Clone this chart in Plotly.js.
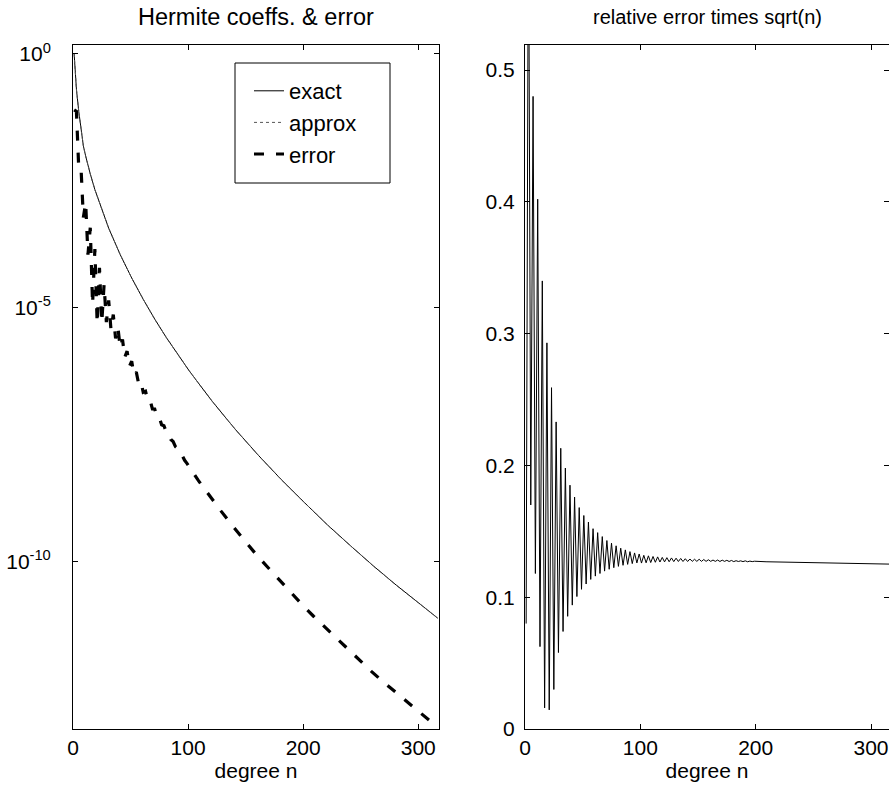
<!DOCTYPE html>
<html>
<head>
<meta charset="utf-8">
<script src="https://cdn.plot.ly/plotly-3.0.1.min.js"></script>
<style>html,body{margin:0;padding:0;background:#fff}#chart{width:889px;height:792px}</style>
</head>
<body>
<div id="chart"></div>
<script>
// ---- data ----
// left panel: Hermite coefficients (log10 values), odd degrees
const nExact = [1,3,5,7,9,11,13,15,19,25,31,41,51,61,71,81,101,121,141,161,181,201,221,241,261,281,301,317];
const exactLog10 = [0,-0.70,-1.13,-1.52,-1.81,-2.01,-2.19,-2.36,-2.67,-3.07,-3.43,-3.95,-4.41,-4.83,-5.22,-5.58,-6.24,-6.84,-7.39,-7.90,-8.38,-8.83,-9.27,-9.68,-10.08,-10.46,-10.83,-11.11];
const approxLog10 = [0,-0.70,-1.13,-1.52,-1.81,-2.01,-2.19,-2.36,-2.67,-3.07,-3.43,-3.95,-4.41,-4.83,-5.22,-5.58,-6.24,-6.84,-7.39,-7.90,-8.38,-8.83,-9.27,-9.68,-10.08,-10.46,-10.83,-11.11];
const nErr = [1,3,5,7,9,11,13,15,17,19,21,23,25,27,29,31,33,35,37,39,41,43,45,47,49,51,53,55,57,59,61,63,65,67,69,71,73,75,77,79,81,83,85,87,89,91,93,95,97,99,
  109,119,129,139,149,159,169,179,189,199,209,219,229,239,249,259,269,279,289,299,309,317];
const errLog10 = [-1.10,-1.13,-2.25,-2.26,-3.22,-2.93,-3.95,-3.42,-4.93,-3.84,-5.31,-4.21,-5.29,-4.54,-5.28,-4.85,-5.43,-5.13,-5.60,-5.38,
  -5.78,-5.62,-5.97,-5.85,-6.15,-6.05,-6.32,-6.26,-6.49,-6.45,-6.66,-6.64,-6.82,-6.82,-6.99,-6.99,-7.15,-7.16,-7.30,-7.32,
  -7.44,-7.47,-7.59,-7.63,-7.73,-7.77,-7.88,-7.91,-8.00,-8.06,
  -8.40,-8.71,-9.01,-9.30,-9.58,-9.85,-10.10,-10.35,-10.59,-10.84,-11.07,-11.29,-11.51,-11.73,-11.94,-12.15,-12.35,-12.54,-12.74,-12.93,-13.12,-13.26];

// right panel: relative error times sqrt(n)
const nRel = [1,3,5,7,9,11,13,15,17,19,21,23,25,27,29,31,33,35,37,39,41,43,45,47,49,51,53,55,57,59,61,63,65,67,69,71,73,75,77,79,81,83,85,87,89,91,93,95,97,99,
  101,103,105,107,109,111,113,115,117,119,121,123,125,127,129,131,133,135,137,139,141,143,145,147,149,151,153,155,157,159,
  161,163,165,167,169,171,173,175,177,179,181,183,185,187,189,191,193,195,197,199,
  209,219,229,239,249,259,269,279,289,299,309,317];
const relVals = [0.080,0.650,0.170,0.480,0.118,0.402,0.0625,0.340,0.016,0.293,0.0145,0.259,0.030,0.233,0.058,0.213,0.074,0.198,0.0855,0.185,
  0.094,0.176,0.1005,0.168,0.106,0.162,0.110,0.157,0.1135,0.152,0.116,0.149,0.118,0.146,0.1198,0.143,0.1212,0.141,0.1224,0.139,
  0.1234,0.1372,0.1242,0.1359,0.1249,0.1346,0.1255,0.1336,0.1260,0.1328,
  0.1259,0.1318,0.1261,0.1314,0.1263,0.1309,0.1265,0.1306,0.1267,0.1302,0.1268,0.1300,0.1269,0.1298,0.1270,0.1296,0.1271,0.1294,0.1271,0.1292,
  0.1271,0.1290,0.1272,0.1288,0.1272,0.1288,0.1272,0.1286,0.1272,0.1284,0.1272,0.1282,0.1272,0.1282,0.1271,0.1281,0.1272,0.1280,0.1271,0.1279,
  0.1270,0.1277,0.1271,0.1276,0.1270,0.1276,0.1269,0.1274,0.1270,0.1273,
  0.1269,0.1267,0.1265,0.1263,0.1261,0.1259,0.1258,0.1256,0.1255,0.1253,0.1252,0.1251];

const xTicks = [0,100,200,300];
const logTickVals = [1,1e-5,1e-10];
const logTickText = ['10<sup>0</sup>','10<sup>-5</sup>','10<sup>-10</sup>'];
const relTicks = [0,0.1,0.2,0.3,0.4,0.5];
const relTickText = ['0','0.1','0.2','0.3','0.4','0.5'];

// ---- chart ----
const FONT = 'Liberation Sans, Arial, Helvetica, sans-serif';
const pow10 = v => Math.pow(10, v);
const W = 889, H = 792;

const traces = [
  {x: nExact, y: exactLog10.map(pow10), name: 'exact', legendgroup: 'a', xaxis: 'x', yaxis: 'y',
   mode: 'lines', line: {color: '#000', width: 1}},
  {x: nExact, y: approxLog10.map(pow10), name: 'approx', legendgroup: 'b', xaxis: 'x', yaxis: 'y',
   mode: 'lines', line: {color: '#555', width: 1, dash: 'dot'}},
  {x: nErr, y: errLog10.map(pow10), name: 'error', legendgroup: 'c', xaxis: 'x', yaxis: 'y',
   mode: 'lines', line: {color: '#000', width: 3.2, dash: '10px,12px'}},
  {x: nRel, y: relVals, name: 'rel', showlegend: false, xaxis: 'x2', yaxis: 'y2',
   mode: 'lines', line: {color: '#000', width: 1}}
];

const axisCommon = {
  showline: true, linecolor: '#000', linewidth: 1, mirror: 'allticks',
  ticks: 'inside', ticklen: 5, tickwidth: 1, tickcolor: '#000',
  showgrid: false, zeroline: false,
  tickfont: {family: FONT, size: 21, color: '#000'}
};

const layout = {
  width: W, height: H,
  margin: {l: 0, r: 0, t: 0, b: 0},
  paper_bgcolor: '#fff', plot_bgcolor: '#fff',
  font: {family: FONT, color: '#000'},
  showlegend: true,
  legend: {
    x: 249/W, y: (H-70)/H, xanchor: 'left', yanchor: 'top',
    borderwidth: 0, bgcolor: 'rgba(0,0,0,0)',
    font: {family: FONT, size: 22, color: '#000'},
    tracegroupgap: 0, itemwidth: 30
  },
  shapes: [
    {type: 'rect', xref: 'paper', yref: 'paper', x0: 235/W, x1: 390/W, y0: (H-183)/H, y1: (H-63)/H,
     line: {color: '#000', width: 1}, fillcolor: '#fff', layer: 'below'}
  ],
  xaxis: Object.assign({}, axisCommon, {
    domain: [73/W, 439/W], range: [0, 318], tickvals: xTicks, anchor: 'y',
    title: {text: 'degree n', font: {family: FONT, size: 21, color: '#000'}, standoff: 5}
  }),
  yaxis: Object.assign({}, axisCommon, {
    domain: [(H-729)/H, (H-45)/H], type: 'log', range: [-13.29, 0.177],
    tickvals: logTickVals, ticktext: logTickText, anchor: 'x', ticklabelstandoff: 17
  }),
  xaxis2: Object.assign({}, axisCommon, {
    domain: [525/W, 1], range: [0, 315.6], tickvals: xTicks, anchor: 'y2',
    title: {text: 'degree n', font: {family: FONT, size: 21, color: '#000'}, standoff: 5}
  }),
  yaxis2: Object.assign({}, axisCommon, {
    domain: [(H-729)/H, (H-45)/H], range: [0, 0.519],
    tickvals: relTicks, ticktext: relTickText, anchor: 'x2', ticklabelstandoff: 5
  }),
  annotations: [
    {text: 'Hermite coeffs. & error', xref: 'x domain', yref: 'paper', x: 0.5, y: (H-17)/H,
     xanchor: 'center', yanchor: 'middle', showarrow: false, font: {family: FONT, size: 23.5, color: '#000'}},
    {text: 'relative error times sqrt(n)', xref: 'x2 domain', yref: 'paper', x: 0.5, y: (H-17)/H,
     xanchor: 'center', yanchor: 'middle', showarrow: false, font: {family: FONT, size: 20, color: '#000'}}
  ]
};

Plotly.newPlot('chart', traces, layout, {displayModeBar: false, staticPlot: true});
</script>
</body>
</html>
